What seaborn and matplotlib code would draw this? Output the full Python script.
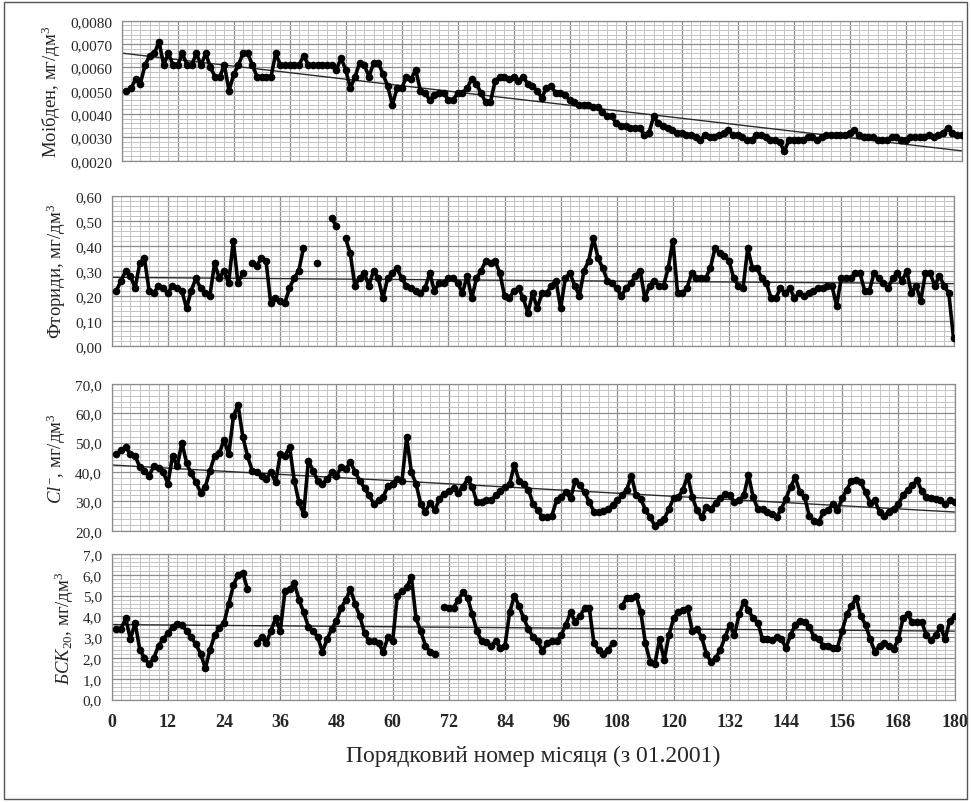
import numpy as np
import pandas as pd
import matplotlib
matplotlib.use('Agg')
import matplotlib.pyplot as plt
from matplotlib.ticker import MultipleLocator, FuncFormatter
import seaborn as sns

# month number since 01.2001
months = np.arange(1, 181)

molybdenum = [
    .0050, .0051, .0055, .0053, .0061, .0065, .0066, .0071, .0061, .0066, .0061, .0061,
    .0066, .0061, .0061, .0066, .0061, .0066, .0060, .0056, .0056, .0061, .0050, .0057,
    .0061, .0066, .0066, .0061, .0056, .0056, .0056, .0056, .0066, .0061, .0061, .0061,
    .0061, .0061, .0065, .0061, .0061, .0061, .0061, .0061, .0061, .0059, .0064, .0059,
    .0051, .0056, .0062, .0061, .0056, .0062, .0062, .0057, .0052, .0044, .0051, .0051,
    .0056, .0055, .0059, .0050, .0049, .0046, .0048, .0049, .0049, .0046, .0046, .0049,
    .0049, .0051, .0055, .0053, .0049, .0045, .0045, .0054, .0056, .0056, .0055, .0056,
    .0054, .0056, .0053, .0052, .0050, .0047, .0051, .0052, .0049, .0049, .0048, .0046,
    .0045, .0044, .0044, .0044, .0043, .0043, .0041, .0039, .0039, .0036, .0035, .0035,
    .0034, .0034, .0034, .0031, .0032, .0039, .0036, .0035, .0034, .0033, .0032, .0032,
    .0031, .0031, .0030, .0029, .0031, .0030, .0030, .0031, .0032, .0033, .0031, .0031,
    .0030, .0029, .0029, .0031, .0031, .0030, .0029, .0029, .0028, .0024, .0029, .0029,
    .0029, .0029, .0030, .0030, .0029, .0030, .0031, .0031, .0031, .0031, .0031, .0032,
    .0033, .0031, .0030, .0030, .0030, .0029, .0029, .0029, .0030, .0030, .0029, .0029,
    .0030, .0030, .0030, .0030, .0031, .0030, .0031, .0032, .0034, .0032, .0031, .0031,
]

fluorides = [
    0.22, 0.26, 0.30, 0.28, 0.23, 0.33, 0.35, 0.22, 0.21, 0.24, 0.23, 0.21,
    0.24, 0.23, 0.22, 0.15, 0.22, 0.27, 0.23, 0.21, 0.20, 0.33, 0.27, 0.30,
    0.25, 0.42, 0.25, 0.29, np.nan, 0.33, 0.32, 0.35, 0.34, 0.17, 0.19, 0.18,
    0.17, 0.23, 0.27, 0.30, 0.39, np.nan, np.nan, 0.33, np.nan, np.nan, 0.51, 0.48,
    np.nan, 0.43, 0.37, 0.24, 0.27, 0.29, 0.24, 0.30, 0.27, 0.19, 0.27, 0.29,
    0.31, 0.27, 0.24, 0.23, 0.22, 0.21, 0.23, 0.29, 0.22, 0.25, 0.25, 0.27,
    0.27, 0.25, 0.21, 0.28, 0.19, 0.27, 0.30, 0.34, 0.33, 0.34, 0.29, 0.20,
    0.19, 0.22, 0.23, 0.19, 0.13, 0.21, 0.15, 0.21, 0.21, 0.24, 0.26, 0.15,
    0.27, 0.29, 0.24, 0.20, 0.30, 0.34, 0.43, 0.35, 0.31, 0.26, 0.25, 0.23,
    0.20, 0.23, 0.25, 0.28, 0.30, 0.19, 0.24, 0.26, 0.24, 0.24, 0.31, 0.42,
    0.21, 0.21, 0.23, 0.29, 0.27, 0.27, 0.27, 0.31, 0.39, 0.37, 0.36, 0.34,
    0.27, 0.24, 0.23, 0.39, 0.31, 0.31, 0.27, 0.25, 0.19, 0.19, 0.23, 0.21,
    0.23, 0.19, 0.21, 0.20, 0.21, 0.22, 0.23, 0.23, 0.24, 0.24, 0.16, 0.27,
    0.27, 0.27, 0.29, 0.29, 0.22, 0.22, 0.29, 0.27, 0.25, 0.23, 0.27, 0.29,
    0.26, 0.30, 0.21, 0.24, 0.18, 0.29, 0.29, 0.24, 0.28, 0.24, 0.21, 0.03,
]

chlorides = [
    46.0, 47.5, 48.4, 46.1, 45.6, 41.6, 40.5, 38.8, 42.0, 41.5, 40.0, 36.0,
    45.5, 42.0, 50.0, 43.0, 39.5, 36.5, 33.0, 35.0, 40.5, 45.6, 46.5, 51.0,
    46.0, 59.0, 62.8, 52.0, 45.5, 40.5, 39.9, 38.8, 37.6, 39.9, 36.5, 46.0,
    45.6, 48.5, 37.0, 29.7, 25.7, 43.9, 40.5, 37.0, 36.0, 37.5, 39.9, 38.8,
    41.6, 41.0, 43.3, 40.0, 37.0, 34.5, 32.0, 29.1, 30.3, 31.4, 35.4, 36.0,
    37.5, 37.0, 51.8, 40.0, 36.0, 29.1, 26.5, 29.5, 27.0, 30.9, 32.6, 33.5,
    34.5, 33.0, 35.0, 37.5, 35.0, 29.7, 29.7, 30.3, 30.3, 32.0, 33.5, 35.0,
    36.0, 42.5, 37.0, 36.0, 34.0, 29.1, 27.0, 24.6, 24.6, 25.1, 30.3, 31.4,
    33.1, 31.0, 37.0, 35.5, 33.1, 29.7, 26.5, 26.3, 26.8, 27.4, 28.6, 30.3,
    32.0, 34.0, 38.7, 32.0, 30.9, 27.0, 24.6, 21.7, 23.0, 24.0, 27.4, 31.0,
    31.4, 34.0, 38.7, 31.5, 27.0, 24.6, 28.0, 27.4, 29.5, 31.0, 32.6, 32.0,
    29.7, 30.3, 32.0, 39.0, 31.4, 27.4, 27.4, 26.3, 25.7, 24.6, 27.4, 30.9,
    35.0, 38.2, 33.1, 31.4, 25.0, 23.4, 23.0, 26.3, 26.9, 29.0, 27.0, 31.0,
    34.0, 37.0, 37.4, 36.5, 33.1, 29.5, 30.3, 26.3, 25.1, 26.5, 27.4, 29.1,
    32.0, 34.0, 35.5, 37.2, 33.5, 31.4, 31.0, 30.9, 30.3, 29.1, 30.3, 29.7,
]

bod20 = [
    3.4, 3.4, 3.9, 2.9, 3.7, 2.4, 2.0, 1.7, 2.0, 2.6, 2.9, 3.2,
    3.5, 3.65, 3.6, 3.3, 3.0, 2.65, 2.2, 1.5, 2.4, 3.1, 3.45, 3.7,
    4.6, 5.5, 6.0, 6.1, 5.3, np.nan, 2.7, 3.0, 2.7, 3.3, 3.9, 3.3,
    5.2, 5.3, 5.6, 4.8, 4.2, 3.5, 3.3, 3.0, 2.3, 2.9, 3.4, 3.8,
    4.4, 4.8, 5.3, 4.6, 4.0, 3.2, 2.8, 2.8, 2.7, 2.3, 3.0, 2.8,
    5.0, 5.2, 5.4, 5.9, 3.9, 3.3, 2.6, 2.3, 2.2, np.nan, 4.45, 4.4,
    4.4, 4.8, 5.15, 4.9, 4.1, 3.3, 2.8, 2.75, 2.6, 2.8, 2.5, 2.6,
    4.2, 5.0, 4.5, 3.9, 3.4, 3.0, 2.8, 2.35, 2.7, 2.8, 2.8, 3.1,
    3.6, 4.2, 3.75, 4.0, 4.4, 4.4, 2.7, 2.4, 2.2, 2.4, 2.7, np.nan,
    4.5, 4.9, 4.9, 5.0, 4.2, 2.7, 1.8, 1.7, 2.9, 1.9, 3.1, 3.9,
    4.2, 4.3, 4.4, 3.3, 3.4, 3.0, 2.2, 1.8, 2.0, 2.4, 3.0, 3.6,
    3.1, 4.1, 4.7, 4.3, 3.9, 3.7, 2.9, 2.9, 2.85, 3.0, 2.9, 2.5,
    3.1, 3.6, 3.8, 3.75, 3.5, 3.0, 2.9, 2.6, 2.6, 2.5, 2.5, 3.3,
    4.1, 4.5, 4.9, 4.0, 3.6, 2.9, 2.3, 2.6, 2.7, 2.6, 2.45, 2.9,
    3.9, 4.1, 3.72, 3.72, 3.72, 3.1, 2.85, 3.1, 3.5, 2.9, 3.8, 4.0,
]

x_ticks = list(range(0, 181, 12))
x_title = 'Порядковий номер місяця (з 01.2001)'

sns.set_theme(style='white')
plt.rcParams['font.family'] = ['Liberation Serif', 'DejaVu Serif']
plt.rcParams['mathtext.fontset'] = 'custom'
plt.rcParams['mathtext.rm'] = 'Liberation Serif'
plt.rcParams['mathtext.it'] = 'Liberation Serif:italic'

fig = plt.figure(figsize=(9.71, 8.03), dpi=100)
W, H = 971.0, 803.0


def box(l, t, r, b):
    return [l / W, 1 - b / H, (r - l) / W, (b - t) / H]


panels = [
    # values, label, ylim, major, minor, decimals, axes box
    (molybdenum, 'Моібден, мг/дм$^3$', (0.0020, 0.0080), 0.0010, 0.0002, 4,
     box(121.7, 21.7, 961.7, 161.7)),
    (fluorides, 'Фториди, мг/дм$^3$', (0.0, 0.60), 0.10, 0.02, 2,
     box(111.7, 196.7, 953.5, 346.7)),
    (chlorides, r'$\mathit{Cl}^{-}$, мг/дм$^3$', (20.0, 70.0), 10.0, 2.0, 1,
     box(111.7, 385.0, 954.5, 531.7)),
    (bod20, r'$\mathit{БСК}_{20}$, мг/дм$^3$', (0.0, 7.0), 1.0, 0.2, 1,
     box(111.7, 555.0, 954.5, 700.6)),
]

for i, (vals, label, ylim, major, minor, dec, pos) in enumerate(panels):
    ax = fig.add_axes(pos)
    ax.set_xlim(0, 180)
    ax.set_ylim(*ylim)
    df = pd.DataFrame({'month': months, 'value': np.array(vals, dtype=float)})
    df['seg'] = df['value'].isna().cumsum()
    df = df.dropna()

    # trend line first, so the data sits on top
    sns.regplot(data=df, x='month', y='value', scatter=False, ci=None,
                truncate=False, ax=ax,
                line_kws=dict(color='#2a2a2a', lw=1.0, zorder=2))
    sns.lineplot(data=df, x='month', y='value', units='seg', estimator=None,
                 color='black', lw=2.6, marker='o', markersize=5.5,
                 markeredgewidth=0, ax=ax, zorder=3)

    ax.set_xlim(0, 180)
    ax.set_ylim(*ylim)
    ax.xaxis.set_major_locator(MultipleLocator(12))
    ax.xaxis.set_minor_locator(MultipleLocator(2))
    ax.yaxis.set_major_locator(MultipleLocator(major))
    ax.yaxis.set_minor_locator(MultipleLocator(minor))
    ax.grid(which='major', color='#8c8c8c', lw=0.9)
    ax.grid(which='minor', color='#c4c4c4', lw=0.7)
    ax.set_axisbelow(True)
    for s in ax.spines.values():
        s.set_color('#8c8c8c')
        s.set_linewidth(0.9)

    ax.yaxis.set_major_formatter(
        FuncFormatter(lambda v, p, d=dec: f'{v:.{d}f}'.replace('.', ',')))
    ax.tick_params(axis='y', which='major', direction='out', length=4,
                   color='#8c8c8c', labelsize=11, pad=3)
    ax.tick_params(axis='x', which='major', direction='out', length=5,
                   color='#8c8c8c', pad=5)
    ax.tick_params(which='minor', length=0)
    ax.set_ylabel(label, fontsize=13.5, labelpad=5)
    ax.set_xlabel('')
    if i < 3:
        ax.tick_params(axis='x', labelbottom=False)
    else:
        ax.set_xticks(x_ticks)
        ax.set_xticklabels([str(t) for t in x_ticks], fontweight='bold',
                           fontsize=13)
        ax.set_xlabel(x_title, fontsize=17, labelpad=10)

# thin frame around the whole picture
fig.patches.append(plt.Rectangle((0.004, 0.004), 0.992, 0.992,
                                 transform=fig.transFigure, fill=False,
                                 edgecolor='#555555', lw=1.0))

fig.savefig('out.png', dpi=100)
